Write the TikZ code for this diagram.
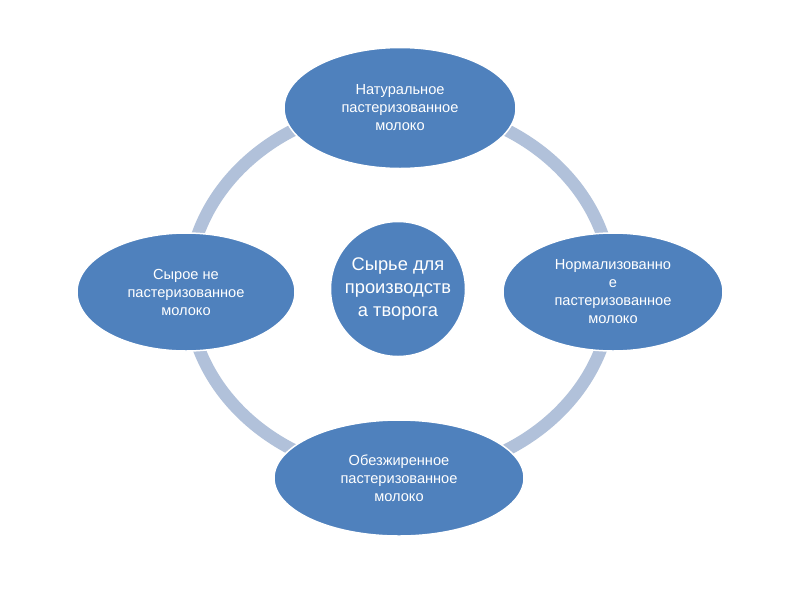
\documentclass[tikz,border=0pt]{standalone}
\usepackage{fontspec}
\setsansfont{Liberation Sans}
\usetikzlibrary{shapes.geometric}
\definecolor{milkblue}{RGB}{79,129,189}
\definecolor{ringgray}{RGB}{177,193,218}

\begin{document}
\begin{tikzpicture}[x=1pt,y=-1pt,font=\sffamily]
    \tikzstyle{kind}=[ellipse, draw=white, line width=1.5pt, fill=milkblue, text=white, inner sep=0pt, align=center, font=\sffamily\fontsize{14.6}{18}\selectfont]
    \tikzstyle{hub}=[circle, draw=white, line width=1.5pt, fill=milkblue, text=white, inner sep=0pt, minimum size=135pt, align=center, font=\sffamily\fontsize{18.3}{23}\selectfont]
    \useasboundingbox (0,0) rectangle (800,600);
    \fill[white] (0,0) rectangle (800,600);

    \draw[ringgray, line width=12.5pt] (400,290) ellipse (212 and 185);

    \node[hub] (raw) at (398,289) {Сырье для\\производств\\а творога};
    \node[kind, minimum width=232pt, minimum height=121pt] (natural) at (400,108) {Натуральное\\пастеризованное\\молоко};
    \node[kind, minimum width=220pt, minimum height=118pt] (normal) at (613,292) {Нормализованно\\е\\пастеризованное\\молоко};
    \node[kind, minimum width=250pt, minimum height=116pt] (skim) at (399,478) {Обезжиренное\\пастеризованное\\молоко};
    \node[kind, minimum width=218pt, minimum height=118pt] (crude) at (186,292) {Сырое не\\пастеризованное\\молоко};
\end{tikzpicture}
\end{document}
